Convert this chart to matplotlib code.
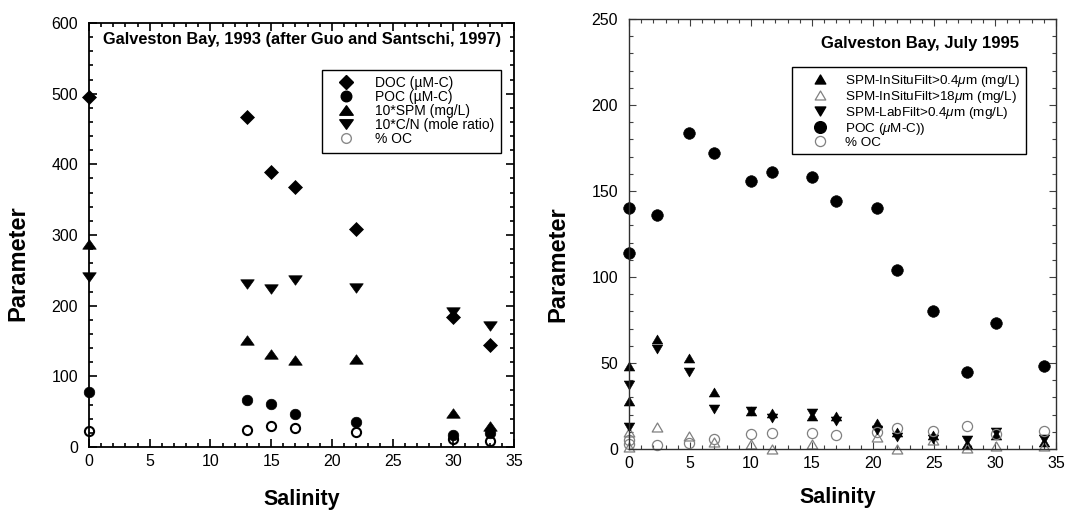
import matplotlib
matplotlib.use('Agg')
import matplotlib.pyplot as plt
from matplotlib.path import Path
from matplotlib.lines import Line2D
from matplotlib.ticker import MultipleLocator

plt.rcParams['font.family'] = ['Liberation Sans', 'DejaVu Sans']
plt.rcParams['mathtext.fontset'] = 'custom'
plt.rcParams['mathtext.rm'] = 'Liberation Sans'
plt.rcParams['mathtext.it'] = 'Liberation Sans:italic'

# ---------------- Left panel: Galveston Bay 1993 ----------------
sal93 = [0, 13, 15, 17, 22, 30, 33]
doc93 = [495, 467, 389, 368, 309, 184, 144]
poc93 = [78, 66, 61, 47, 36, 17, 20]
spm10_93 = [287, 151, 131, 123, 124, 48, 30]
cn10_93 = [241, 231, 224, 236, 225, 191, 171]
oc93 = [23, 24, 30, 27, 21, 11, 9]
labels93 = ["DOC (\u00b5M-C)", "POC (\u00b5M-C)", "10*SPM (mg/L)",
            "10*C/N (mole ratio)", "% OC"]

# ---------------- Right panel: Galveston Bay July 1995 ----------------
sal95 = [0, 0, 2.3, 4.9, 7, 10, 11.7, 15, 17, 20.3, 22, 24.9, 27.7, 30.1, 34]
poc95 = [140, 114, 136, 184, 172, 156, 161, 158, 144, 140, 104, 80, 45, 73, 48]
spm_insitu04 = [48, 28, 64, 53, 33, 22, 21, 19, 19, 15, 10, 8, 3, 8, 4]
spm_lab04 = [37, 13, 58, 45, 23, 22, 18, 21, 16, 11, 7, 6, 5, 10, 6]
oc95 = [5, 3, 2.3, 3.5, 6, 8.5, 9.5, 9.2, 8.4, 10, 12, 10.6, 13.6, 9, 10.6]
sal95_18 = [0, 0, 2.3, 4.9, 7, 10, 11.7, 15, 20.3, 22, 24.9, 27.7, 30.1, 34]
spm_insitu18 = [10, 1, 13, 7.5, 4, 3, 0, 3, 7, 0, 5, 0.5, 2, 1.5]
labels95 = ["SPM-InSituFilt>0.4$\\mu$m (mg/L)", "SPM-InSituFilt>18$\\mu$m (mg/L)",
            "SPM-LabFilt>0.4$\\mu$m (mg/L)", "POC ($\\mu$M-C))", "% OC"]

# marker shapes
def tri(h, up=True):
    s = 1 if up else -1
    return Path([(-1, -s * h), (1, -s * h), (0, s * h), (-1, -s * h)], closed=True)

tri_up_L = tri(0.7, True)
tri_dn_L = tri(0.7, False)
tri_up_R = tri(0.85, True)
tri_dn_R = tri(0.85, False)

fig = plt.figure(figsize=(10.66, 5.14), dpi=100)
ax1 = fig.add_axes([89 / 1066, 67 / 514, 425 / 1066, 424 / 514])
ax2 = fig.add_axes([629 / 1066, 65 / 514, 427 / 1066, 430 / 514])

# ---------- left ----------
kw = dict(linestyle='none', clip_on=False)
ax1.plot(sal93, doc93, marker='D', ms=7, color='black', mew=0.5, **kw)
ax1.plot(sal93, poc93, marker='o', ms=7.6, color='black', mew=0.5, **kw)
ax1.plot(sal93, spm10_93, marker=tri_up_L, ms=9.7, color='black', mew=0.5, **kw)
ax1.plot(sal93, cn10_93, marker=tri_dn_L, ms=9.7, color='black', mew=0.5, **kw)
ax1.plot(sal93, oc93, marker='o', ms=6.6, mfc='none', mec='black', mew=1.5, **kw)

ax1.set_xlim(0, 35)
ax1.set_ylim(0, 600)
ax1.xaxis.set_major_locator(MultipleLocator(5))
ax1.xaxis.set_minor_locator(MultipleLocator(1))
ax1.yaxis.set_major_locator(MultipleLocator(100))
ax1.yaxis.set_minor_locator(MultipleLocator(20))
for sp in ax1.spines.values():
    sp.set_linewidth(1.3)
    sp.set_color('black')
ax1.tick_params(which='both', direction='in', top=True, right=True,
                labelsize=11.5, width=1.2, color='black')
ax1.tick_params(which='major', length=5.5)
ax1.tick_params(which='minor', length=2.8)
ax1.tick_params(axis='y', pad=8)
ax1.tick_params(axis='x', pad=5)

ax1.set_xlabel("Salinity", fontsize=15.5, fontweight='bold', va='center')
ax1.xaxis.set_label_coords(0.5, -0.125)
ax1.set_ylabel("Parameter", fontsize=17, fontweight='bold', va='center')
ax1.yaxis.set_label_coords(-0.167, 0.434)

ax1.text(0.033, 0.962, "Galveston Bay, 1993 (after Guo and Santschi, 1997)",
         transform=ax1.transAxes, fontsize=11.8, fontweight='bold',
         ha='left', va='center')

h1 = [Line2D([], [], linestyle='none', marker='D', ms=7, color='black'),
      Line2D([], [], linestyle='none', marker='o', ms=7.6, color='black'),
      Line2D([], [], linestyle='none', marker=tri_up_L, ms=9.7, color='black'),
      Line2D([], [], linestyle='none', marker=tri_dn_L, ms=9.7, color='black'),
      Line2D([], [], linestyle='none', marker='o', ms=7, mfc='none', mec='#8a8a8a', mew=1.0)]
leg1 = ax1.legend(h1, labels93, loc='upper left', bbox_to_anchor=(0.548, 0.889),
                  borderaxespad=0, fontsize=10, borderpad=0.45, handlelength=2.6,
                  handletextpad=0.78, labelspacing=0.0, fancybox=False,
                  framealpha=1, edgecolor='black', numpoints=1)
leg1.get_frame().set_linewidth(1.0)

# ---------- right ----------
gray = '#808080'
ax2.plot(sal95, spm_insitu04, marker=tri_up_R, ms=7.6, color='black', mew=0.4, **kw)
ax2.plot(sal95_18, spm_insitu18, marker=tri_up_R, ms=7.6, mfc='none', mec=gray, mew=0.9, **kw)
ax2.plot(sal95, spm_lab04, marker=tri_dn_R, ms=7.6, color='black', mew=0.4, **kw)
ax2.plot(sal95, poc95, marker='o', ms=8.4, color='black', mew=0.4, **kw)
ax2.plot(sal95, oc95, marker='o', ms=7.3, mfc='none', mec=gray, mew=0.9, **kw)

ax2.set_xlim(0, 35)
ax2.set_ylim(0, 250)
ax2.xaxis.set_major_locator(MultipleLocator(5))
ax2.xaxis.set_minor_locator(MultipleLocator(1))
ax2.yaxis.set_major_locator(MultipleLocator(50))
ax2.yaxis.set_minor_locator(MultipleLocator(10))
for sp in ax2.spines.values():
    sp.set_linewidth(1.0)
    sp.set_color('#303030')
ax2.tick_params(which='both', direction='in', top=True, right=True,
                labelsize=11.5, width=0.8, color='#404040')
ax2.tick_params(which='major', length=5)
ax2.tick_params(which='minor', length=2.6)
ax2.tick_params(axis='y', pad=8)
ax2.tick_params(axis='x', pad=5)

ax2.set_xlabel("Salinity", fontsize=15.5, fontweight='bold', va='center')
ax2.xaxis.set_label_coords(0.49, -0.112)
ax2.set_ylabel("Parameter", fontsize=17, fontweight='bold', va='center')
ax2.yaxis.set_label_coords(-0.166, 0.43)

ax2.text(0.682, 0.944, "Galveston Bay, July 1995", transform=ax2.transAxes,
         fontsize=12, fontweight='bold', ha='center', va='center')

h2 = [Line2D([], [], linestyle='none', marker=tri_up_R, ms=7.6, color='black'),
      Line2D([], [], linestyle='none', marker=tri_up_R, ms=7.6, mfc='none', mec=gray, mew=0.9),
      Line2D([], [], linestyle='none', marker=tri_dn_R, ms=7.6, color='black'),
      Line2D([], [], linestyle='none', marker='o', ms=8.4, color='black'),
      Line2D([], [], linestyle='none', marker='o', ms=7.3, mfc='none', mec=gray, mew=0.9)]
leg2 = ax2.legend(h2, labels95, loc='upper left', bbox_to_anchor=(0.382, 0.888),
                  borderaxespad=0, fontsize=9.7, borderpad=0.4, handlelength=3.4,
                  handletextpad=0.15, labelspacing=0.0, fancybox=False,
                  framealpha=1, edgecolor='black', numpoints=1)
leg2.get_frame().set_linewidth(1.0)

fig.savefig('out.png', dpi=100)
